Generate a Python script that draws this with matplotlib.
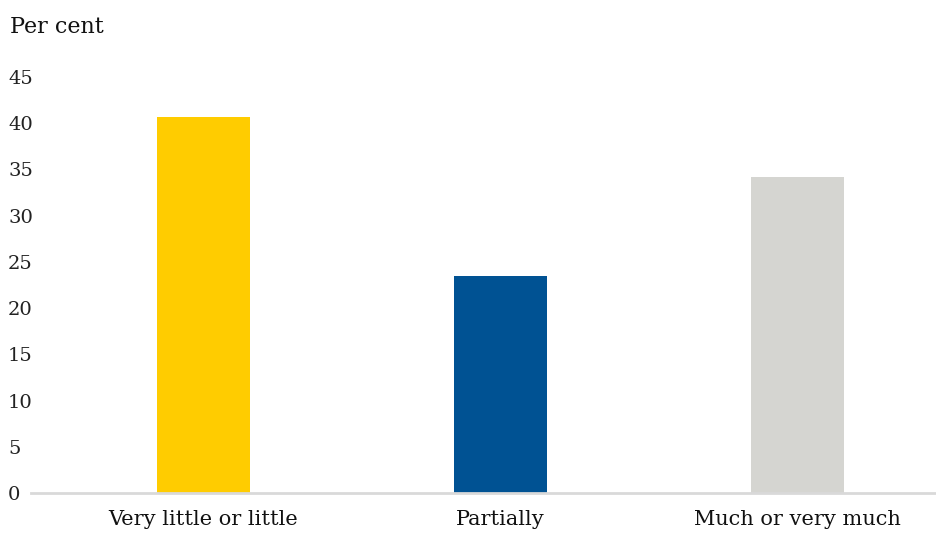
import matplotlib
matplotlib.use("Agg")
import matplotlib.pyplot as plt

categories = ["Very little or little", "Partially", "Much or very much"]
values = [40.7, 23.5, 34.2]
colors = ["#FFCC00", "#005293", "#D5D5D1"]
yticks = [0, 5, 10, 15, 20, 25, 30, 35, 40, 45]

plt.rcParams['font.family'] = ['DejaVu Serif']

fig = plt.figure(figsize=(9.36, 5.34), dpi=100)
ax = fig.add_axes([31 / 936, 41 / 534, 905 / 936, 416 / 534])

x = list(range(len(categories)))
ax.bar(x, values, width=0.313, color=colors, zorder=2)

ax.set_xlim(-0.58, 2.466)
ax.set_ylim(0, 45)
ax.set_yticks(yticks)
ax.set_yticklabels([str(t) for t in yticks], fontsize=14, color="#222222", ha="left")
ax.tick_params(axis="y", length=0, pad=16.5)
ax.set_xticks(x)
ax.set_xticklabels(categories, fontsize=15, color="#111111")
ax.tick_params(axis="x", length=0, pad=12)

for s in ["top", "right", "left"]:
    ax.spines[s].set_visible(False)
ax.spines["bottom"].set_color("#D9D9D9")
ax.spines["bottom"].set_linewidth(2)

fig.text(10 / 936, 1 - 27 / 534, "Per cent", fontsize=16, va="center", ha="left", color="#111111")

fig.savefig("out.png", dpi=100)
